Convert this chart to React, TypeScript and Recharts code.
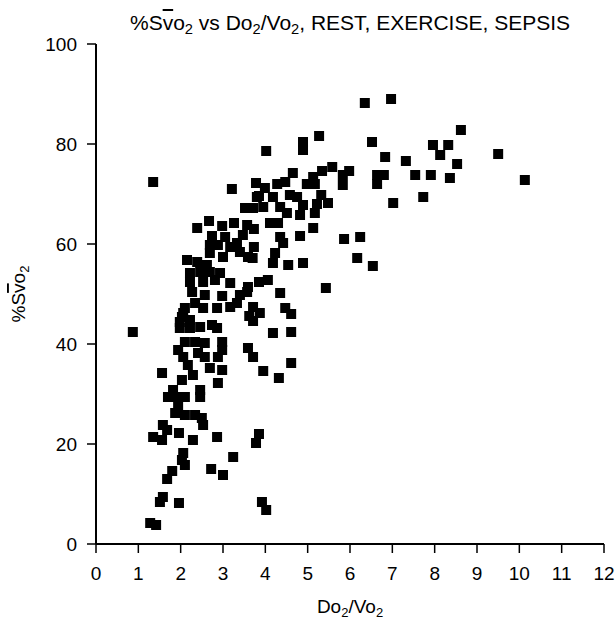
import { ScatterChart, Scatter, XAxis, YAxis, Label } from "recharts";

// DO2/VO2 ratio for each observation
const doVoRatio = [
  6.97, 6.35, 8.62, 5.27, 6.52, 4.89, 4.89, 7.96, 8.32, 8.13, 9.5, 6.83, 7.32, 8.53, 4.02,
  5.58, 5.98, 5.83, 5.83, 5.34, 4.65, 5.13, 4.47, 4.28, 3.78, 4.98, 5.17, 6.64, 6.8, 6.64,
  7.54, 7.91, 8.36, 10.13, 7.73, 7.02, 6.54, 3.99, 3.85, 4.18, 4.58, 4.75, 5.32, 5.48, 5.22,
  4.89, 4.35, 4.51, 3.71, 3.95, 4.82, 5.17, 4.11, 4.3, 5.13, 3.73, 4.35, 4.42, 4.82, 5.86,
  6.24, 3.73, 4.23, 6.17, 4.18, 4.54, 4.89, 3.7, 3.85, 4.06, 4.35, 5.43, 3.71, 3.87, 4.47,
  4.61, 4.18, 4.61, 3.71, 4.61, 3.95, 4.32, 3.85, 3.78, 3.92, 4.02, 1.35, 3.21, 3.8, 3.64,
  3.52, 2.67, 2.39, 2.98, 3.26, 2.74, 3.05, 3.47, 3.57, 2.15, 2.39, 2.69, 2.88, 3.17, 3.33,
  2.69, 3.0, 3.4, 3.59, 2.62, 2.22, 2.46, 2.69, 2.93, 2.22, 2.53, 2.81, 3.17, 3.59, 2.27,
  2.57, 2.98, 3.4, 3.57, 2.34, 2.1, 2.06, 1.98, 2.53, 2.86, 3.17, 3.33, 3.62, 3.71, 2.74,
  0.87, 1.98, 2.22, 2.46, 2.86, 2.1, 2.34, 2.57, 2.98, 2.98, 1.94, 2.06, 2.41, 2.57, 2.88,
  3.59, 1.56, 2.17, 2.29, 2.69, 2.98, 2.88, 2.03, 1.82, 1.7, 1.91, 2.1, 2.46, 2.46, 1.94,
  1.87, 2.1, 2.34, 2.5, 2.53, 1.58, 1.68, 1.35, 1.56, 1.96, 2.29, 2.86, 2.06, 2.03, 2.1,
  3.24, 1.8, 1.68, 2.72, 3.0, 1.58, 1.51, 1.96, 1.28, 1.42, 2.03, 2.22,
];

// mixed venous O2 saturation (%) for the same observations
const svoPercent = [
  89, 88.2, 82.8, 81.6, 80.4, 80.4, 78.8, 79.8, 79.8, 77.8, 78, 77.4, 76.6, 76, 78.6,
  75.4, 74.6, 73.8, 71.8, 74.6, 74.2, 73.4, 72.4, 72, 72.2, 72, 72, 73.8, 73.8, 72,
  73.8, 73.8, 73.2, 72.8, 69.4, 68.2, 55.6, 71.2, 69.6, 69.4, 69.8, 69.4, 69.8, 68.2, 68,
  67.8, 67.4, 66.2, 67.2, 67.4, 65.8, 66.2, 64.2, 64.2, 63.2, 63, 61.4, 60.2, 61.6, 61,
  61.4, 59.4, 58.2, 57.2, 56.2, 55.8, 56.2, 57.2, 52.4, 52.8, 50.2, 51.2, 47.4, 46.2, 47.2,
  46, 42.2, 42.4, 37.4, 36.2, 34.6, 33.2, 22, 20.2, 8.4, 6.8, 72.4, 71, 69.4, 67.2,
  67.2, 64.6, 63.2, 63.6, 64.2, 61.6, 61.4, 61.8, 63.8, 56.8, 56.4, 59.8, 59.8, 59.4, 60.2,
  58.2, 57.4, 58.4, 57.4, 55.8, 54.2, 54.4, 54.4, 54.2, 52.4, 52.4, 52.8, 52.2, 51.4, 50.4,
  49.8, 49.6, 49.8, 50.4, 48.2, 47.2, 46.2, 44.4, 47.2, 47.2, 47.4, 48.2, 45.6, 44.6, 43.8,
  42.4, 43.2, 43.2, 43.4, 43.2, 40.4, 40.4, 40.2, 40.4, 38.8, 38.8, 37.4, 38.2, 37.4, 37.4,
  39.2, 34.2, 35.8, 33.8, 35.2, 34.8, 32.2, 32.8, 30.8, 29.4, 29.4, 29.4, 30.8, 29.4, 27.8,
  26.2, 25.8, 25.8, 25.2, 23.8, 23.8, 22.8, 21.4, 20.8, 22.2, 20.8, 21.4, 18.2, 16.8, 15.8,
  17.4, 14.6, 13, 15, 13.8, 9.4, 8.4, 8.2, 4.2, 3.8, 45.4, 44.8,
];

const xTicks = [0, 1, 2, 3, 4, 5, 6, 7, 8, 9, 10, 11, 12];
const yTicks = [0, 20, 40, 60, 80, 100];

const points = doVoRatio.map((x, i) => ({ x, y: svoPercent[i] }));

const FONT = '"Liberation Sans", Arial, sans-serif';

const SquareDot = (props: any) => {
  const { cx, cy } = props;
  if (cx == null || cy == null) return null;
  return <rect x={cx - 5} y={cy - 5} width={10} height={10} fill="#000" />;
};

const sub = { fontSize: "70%", position: "relative" as const, top: 4 };

export default function App() {
  return (
    <div style={{ position: "absolute", left: 0, top: 0, width: 615, height: 625, background: "#fff" }}>
      <div
        style={{
          position: "absolute",
          left: 0,
          top: 12,
          width: 700,
          textAlign: "center",
          fontFamily: FONT,
          fontSize: 21,
          lineHeight: "21px",
          color: "#000",
          whiteSpace: "nowrap",
        }}
      >
        %S<span style={{ textDecoration: "overline" }}>v</span>o<span style={sub}>2</span> vs Do
        <span style={sub}>2</span>/Vo<span style={sub}>2</span>, REST, EXERCISE, SEPSIS
      </div>
      <ScatterChart width={615} height={625} margin={{ top: 44, right: 11, bottom: 41, left: 36 }}>
        <XAxis
          type="number"
          dataKey="x"
          domain={[0, 12]}
          ticks={xTicks}
          interval={0}
          height={40}
          axisLine={{ stroke: "#000", strokeWidth: 2 }}
          tickLine={{ stroke: "#000", strokeWidth: 1.5 }}
          tickSize={9}
          tickMargin={14}
          tick={{ fill: "#000", fontSize: 19, fontFamily: FONT }}
        >
          <Label
            content={(p: any) => (
              <text
                x={p.viewBox.x + p.viewBox.width / 2}
                y={613}
                textAnchor="middle"
                fontSize={19}
                fontFamily={FONT}
                fill="#000"
              >
                Do<tspan fontSize={13} dy={4}>2</tspan>
                <tspan dy={-4}>/Vo</tspan>
                <tspan fontSize={13} dy={4}>2</tspan>
              </text>
            )}
          />
        </XAxis>
        <YAxis
          type="number"
          dataKey="y"
          domain={[0, 100]}
          ticks={yTicks}
          interval={0}
          width={60}
          axisLine={{ stroke: "#000", strokeWidth: 2 }}
          tickLine={{ stroke: "#000", strokeWidth: 1.5 }}
          tickSize={9}
          tickMargin={10}
          tick={{ fill: "#000", fontSize: 19, fontFamily: FONT }}
        >
          <Label
            content={(p: any) => (
              <text
                x={25}
                y={p.viewBox.y + p.viewBox.height / 2}
                transform={`rotate(-90, 25, ${p.viewBox.y + p.viewBox.height / 2})`}
                textAnchor="middle"
                fontSize={19}
                fontFamily={FONT}
                fill="#000"
              >
                %S<tspan textDecoration="overline">v</tspan>o
                <tspan fontSize={13} dy={4}>2</tspan>
              </text>
            )}
          />
        </YAxis>
        <Scatter data={points} shape={SquareDot} isAnimationActive={false} />
      </ScatterChart>
    </div>
  );
}
